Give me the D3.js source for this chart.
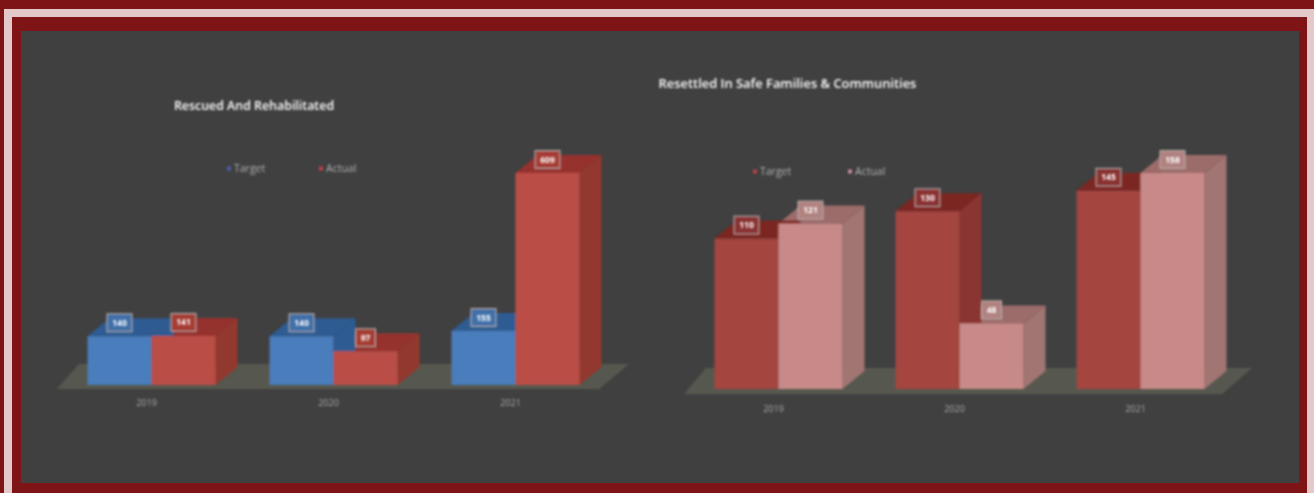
<!DOCTYPE html>
<html>
<head>
<meta charset="UTF-8">
<title>Rescued And Rehabilitated / Resettled In Safe Families & Communities</title>
<script src="https://d3js.org/d3.v7.min.js"></script>
<style>
    html, body { margin: 0; padding: 0; background: #7f1416; overflow: hidden; }
    text { font-family: "Open Sans", Arial, sans-serif; }
</style>
</head>
<body>
<svg id="chart" width="1314" height="493"></svg>
<script>
    let years = ["2019", "2020", "2021"];
    let seriesNames = ["Target", "Actual"];

    let rescuedTitle = "Rescued And Rehabilitated";
    let rescuedTarget = [140, 140, 155];
    let rescuedActual = [141, 97, 609];

    let resettledTitle = "Resettled In Safe Families & Communities";
    let resettledTarget = [110, 130, 145];
    let resettledActual = [121, 48, 158];

    let W = 1314, H = 493;
    let svg = d3.select("#chart");

    let defs = svg.append("defs");
    defs.append("filter").attr("id", "soft").attr("x", "-5%").attr("y", "-5%").attr("width", "110%").attr("height", "110%")
        .append("feGaussianBlur").attr("stdDeviation", 1);
    defs.append("filter").attr("id", "softText").attr("x", "-15%").attr("y", "-40%").attr("width", "130%").attr("height", "180%")
        .append("feGaussianBlur").attr("stdDeviation", 0.8);

    // frame
    svg.append("rect").attr("width", W).attr("height", H).attr("fill", "#7f1416");
    svg.append("rect").attr("x", 4).attr("y", 9).attr("width", W - 4).attr("height", H - 9).attr("fill", "#e3c9c9");
    svg.append("rect").attr("x", 12).attr("y", 17).attr("width", 1295).attr("height", H - 17).attr("fill", "#7f1416");
    svg.append("rect").attr("x", 21).attr("y", 31).attr("width", 1278).attr("height", 452).attr("fill", "#404040");

    function drawChart(opt) {
        let g = svg.append("g");
        let rows = [opt.target, opt.actual];

        let x0 = d3.scaleBand().domain(years).range(opt.xRange).paddingInner(opt.gap);
        let x1 = d3.scaleBand().domain(seriesNames).range([0, x0.bandwidth()]);
        let y = d3.scaleLinear().domain([0, opt.yMax]).range([opt.base, opt.base - opt.yPx]);

        let dx = 22, dy = 18;

        // floor
        let f = opt.floor;
        g.append("polygon")
            .attr("points", [[f[0], f[2]], [f[1], f[2]], [f[1] + 30, f[3]], [f[0] + 22, f[3]]].join(" "))
            .attr("fill", "#575850")
            .attr("filter", "url(#soft)");

        let bars = [];
        seriesNames.forEach((s, si) => {
            years.forEach((yr, i) => {
                bars.push({ year: yr, series: s, si: si, value: rows[si][i], x: x0(yr) + x1(s), w: x1.bandwidth() });
            });
        });

        // back to front so the front faces sit over the neighbour's side
        let order = bars.slice().sort((a, b) => (b.x - a.x));
        let marks = g.append("g").attr("filter", "url(#soft)");
        order.forEach(d => {
            let c = opt.colors[d.si];
            let top = y(d.value);
            marks.append("polygon")
                .attr("points", [[d.x + d.w, top], [d.x + d.w + dx, top - dy], [d.x + d.w + dx, opt.base - dy], [d.x + d.w, opt.base]].join(" "))
                .attr("fill", c.side);
            marks.append("polygon")
                .attr("points", [[d.x, top], [d.x + dx, top - dy], [d.x + d.w + dx, top - dy], [d.x + d.w, top]].join(" "))
                .attr("fill", c.top);
        });
        // front faces last
        bars.forEach(d => {
            marks.append("rect")
                .attr("x", d.x).attr("y", y(d.value))
                .attr("width", d.w).attr("height", opt.base - y(d.value))
                .attr("fill", opt.colors[d.si].front);
        });

        // value labels
        bars.forEach(d => {
            let cx = d.x + d.w / 2, cy = y(d.value) - 13.5;
            let lw = String(d.value).length > 2 ? 25 : 20;
            g.append("rect")
                .attr("x", cx - lw / 2).attr("y", cy - 9)
                .attr("width", lw).attr("height", 18)
                .attr("fill", opt.colors[d.si].label)
                .attr("stroke", "#b9aeac").attr("stroke-width", 1)
                .attr("filter", "url(#softText)");
            g.append("text")
                .attr("x", cx).attr("y", cy + 3)
                .attr("text-anchor", "middle")
                .attr("font-size", 8.5).attr("font-weight", 700)
                .attr("fill", "#ffffff")
                .attr("filter", "url(#softText)")
                .text(d.value);
        });

        // year axis, no line or ticks
        let axis = g.append("g")
            .attr("transform", "translate(-5," + opt.axisY + ")")
            .call(d3.axisBottom(x0).tickSize(0).tickPadding(0));
        axis.select(".domain").remove();
        axis.selectAll("text")
            .attr("font-size", 9)
            .attr("font-family", "\"Open Sans\", Arial, sans-serif")
            .attr("fill", "#a8a8a8")
            .attr("filter", "url(#softText)");

        // title
        g.append("text")
            .attr("x", opt.titleX).attr("y", opt.titleY)
            .attr("text-anchor", "middle")
            .attr("font-size", opt.titleSize).attr("font-weight", 600)
            .attr("fill", "#ffffff")
            .attr("filter", "url(#softText)")
            .text(opt.title);

        // legend
        seriesNames.forEach((s, si) => {
            g.append("rect")
                .attr("x", opt.legendX[si]).attr("y", opt.legendY - 5.5)
                .attr("width", 4).attr("height", 4)
                .attr("fill", opt.legendColors[si])
                .attr("filter", "url(#softText)");
            g.append("text")
                .attr("x", opt.legendX[si] + 7).attr("y", opt.legendY)
                .attr("font-size", 10.5)
                .attr("fill", "#b0b0b0")
                .attr("filter", "url(#softText)")
                .text(s);
        });
    }

    drawChart({
        title: rescuedTitle, target: rescuedTarget, actual: rescuedActual,
        xRange: [87.5, 579.5], gap: 54 / 182, base: 385, yMax: 609, yPx: 212,
        floor: [57, 599, 389, 364], axisY: 400,
        titleX: 254, titleY: 110, titleSize: 12.4,
        legendX: [227, 319], legendY: 172,
        legendColors: ["#4a5fa8", "#c04050"],
        colors: [
            { front: "#4a7dbc", top: "#2d5c92", side: "#2d5c92", label: "#3f6fa8" },
            { front: "#bb4e47", top: "#96322d", side: "#93392f", label: "#a53c36" }
        ]
    });

    drawChart({
        title: resettledTitle, target: resettledTarget, actual: resettledActual,
        xRange: [714.5, 1204.5], gap: 53 / 181, base: 389, yMax: 158, yPx: 216,
        floor: [684, 1222, 394, 368], axisY: 406,
        titleX: 787.5, titleY: 88, titleSize: 12.9,
        legendX: [753, 848], legendY: 175,
        legendColors: ["#b8404a", "#c88a98"],
        colors: [
            { front: "#a44541", top: "#7c2523", side: "#8a3532", label: "#8a3030" },
            { front: "#c88a88", top: "#9c6c6a", side: "#a17472", label: "#b08280" }
        ]
    });
</script>
</body>
</html>
